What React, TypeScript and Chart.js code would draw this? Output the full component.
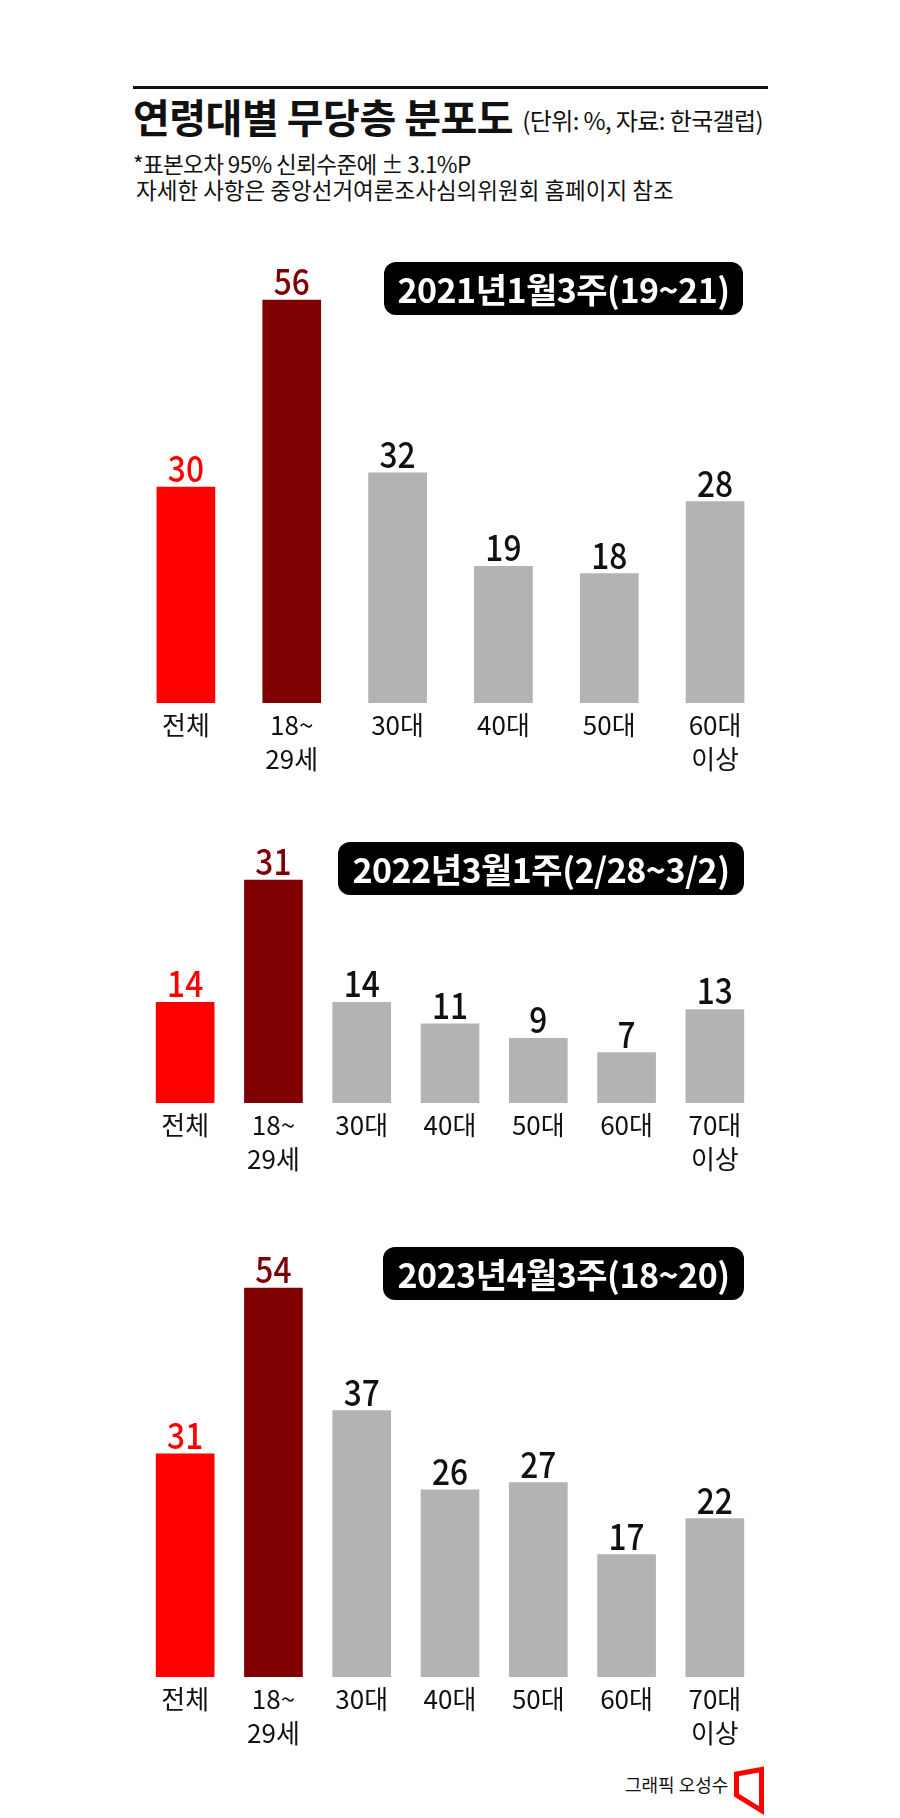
import React, { useEffect, useRef } from 'react';
import { Chart, registerables } from 'chart.js';

Chart.register(...registerables);

// 2021년 1월 3주
const categories2021: (string | string[])[] = ['전체', ['18~', '29세'], '30대', '40대', '50대', ['60대', '이상']];
const values2021 = [30, 56, 32, 19, 18, 28];

// 2022년 3월 1주
const categories2022: (string | string[])[] = ['전체', ['18~', '29세'], '30대', '40대', '50대', '60대', ['70대', '이상']];
const values2022 = [14, 31, 14, 11, 9, 7, 13];

// 2023년 4월 3주
const categories2023: (string | string[])[] = ['전체', ['18~', '29세'], '30대', '40대', '50대', '60대', ['70대', '이상']];
const values2023 = [31, 54, 37, 26, 27, 17, 22];

const periods = ['2021년1월3주(19~21)', '2022년3월1주(2/28~3/2)', '2023년4월3주(18~20)'];

const FONT = '"Noto Sans CJK KR", "Noto Sans", sans-serif';
const PX_PER_UNIT = 7.2;
const AXIS_HEIGHT = 80;

const barColor = (i: number) => (i === 0 ? '#ff0000' : i === 1 ? '#7f0000' : '#b3b3b3');
const labelColor = (i: number) => (i === 0 ? '#ff0000' : i === 1 ? '#7f0000' : '#111111');

const valueLabels = {
  id: 'valueLabels',
  afterDatasetsDraw(chart: any) {
    const ctx = chart.ctx;
    const meta = chart.getDatasetMeta(0);
    const data = chart.data.datasets[0].data as number[];
    ctx.save();
    ctx.font = `500 36px ${FONT}`;
    ctx.textAlign = 'center';
    ctx.textBaseline = 'alphabetic';
    meta.data.forEach((bar: any, i: number) => {
      ctx.save();
      ctx.translate(bar.x, bar.y - 5);
      ctx.scale(0.88, 1);
      ctx.fillStyle = labelColor(i);
      ctx.fillText(String(data[i]), 0, 0);
      ctx.restore();
    });
    ctx.restore();
  },
};

interface BarPanelProps {
  labels: (string | string[])[];
  values: number[];
  max: number;
  left: number;
  width: number;
  bottom: number;
}

const BarPanel: React.FC<BarPanelProps> = ({ labels, values, max, left, width, bottom }) => {
  const canvasRef = useRef<HTMLCanvasElement | null>(null);
  const areaHeight = Math.round(max * PX_PER_UNIT);
  const height = areaHeight + AXIS_HEIGHT;
  const top = bottom - areaHeight;

  useEffect(() => {
    if (!canvasRef.current) return;
    const chart = new Chart(canvasRef.current, {
      type: 'bar',
      data: {
        labels,
        datasets: [
          {
            data: values,
            backgroundColor: values.map((_, i) => barColor(i)),
            borderWidth: 0,
            barThickness: 58,
          },
        ],
      },
      options: {
        responsive: false,
        animation: false,
        layout: { padding: 0 },
        plugins: {
          legend: { display: false },
          tooltip: { enabled: false },
        },
        scales: {
          y: { display: false, min: 0, max },
          x: {
            grid: { display: false, drawTicks: false },
            border: { display: false },
            ticks: {
              color: '#111111',
              font: { family: FONT, size: 26, lineHeight: 1.3 },
              padding: 5,
              autoSkip: false,
              maxRotation: 0,
            },
            afterFit: (scale: any) => {
              scale.height = AXIS_HEIGHT;
            },
          },
        },
      },
      plugins: [valueLabels],
    });
    return () => chart.destroy();
  }, [JSON.stringify(values)]);

  return (
    <canvas
      ref={canvasRef}
      width={width}
      height={height}
      style={{ position: 'absolute', left, top, width, height }}
    />
  );
};

const Badge: React.FC<{ text: string; left: number; top: number; width: number }> = ({ text, left, top, width }) => (
  <div
    style={{
      position: 'absolute',
      left,
      top,
      width,
      height: 53,
      background: '#000',
      borderRadius: 12,
      color: '#fff',
      fontSize: 34,
      fontWeight: 700,
      letterSpacing: -0.5,
      display: 'flex',
      alignItems: 'center',
      justifyContent: 'center',
      lineHeight: 1,
      whiteSpace: 'nowrap',
      zIndex: 2,
    }}
  >
    {text}
  </div>
);

const App: React.FC = () => (
  <div
    style={{
      position: 'absolute',
      left: 0,
      top: 0,
      width: 900,
      height: 1818,
      background: '#fff',
      fontFamily: FONT,
      color: '#111',
      overflow: 'hidden',
    }}
  >
    <div style={{ position: 'absolute', left: 133, top: 86, width: 635, height: 3, background: '#111' }} />
    <div style={{ position: 'absolute', left: 133, top: 96, whiteSpace: 'nowrap', lineHeight: '40px' }}>
      <span style={{ fontSize: 40, fontWeight: 700, letterSpacing: -0.5 }}>연령대별 무당층 분포도</span>
      <span style={{ fontSize: 24, marginLeft: 9, letterSpacing: -0.6, position: 'relative', top: -3 }}>
        (단위: %, 자료: 한국갤럽)
      </span>
    </div>
    <div style={{ position: 'absolute', left: 133, top: 150, fontSize: 22.5, lineHeight: '26px', whiteSpace: 'nowrap' }}>
      <div style={{ letterSpacing: -0.6 }}>*표본오차 95% 신뢰수준에 ± 3.1%P</div>
      <div style={{ paddingLeft: 3 }}>자세한 사항은 중앙선거여론조사심의위원회 홈페이지 참조</div>
    </div>

    <BarPanel labels={categories2021} values={values2021} max={62} left={133} width={635} bottom={703} />
    <Badge text={periods[0]} left={384} top={262} width={359} />

    <BarPanel labels={categories2022} values={values2022} max={36} left={141} width={618} bottom={1103} />
    <Badge text={periods[1]} left={338} top={842} width={406} />

    <BarPanel labels={categories2023} values={values2023} max={60} left={141} width={618} bottom={1677} />
    <Badge text={periods[2]} left={383} top={1247} width={361} />

    <div style={{ position: 'absolute', left: 625, top: 1772, fontSize: 18, lineHeight: '24px', whiteSpace: 'nowrap' }}>
      그래픽 오성수
    </div>
    <svg style={{ position: 'absolute', left: 728, top: 1762, width: 42, height: 56 }} viewBox="728 1762 42 56">
      <polygon
        points="736.5,1774 761.5,1769.5 761.5,1810.5 736.5,1795"
        fill="none"
        stroke="#ff0000"
        strokeWidth={5}
        strokeLinejoin="miter"
      />
    </svg>
  </div>
);

export default App;
